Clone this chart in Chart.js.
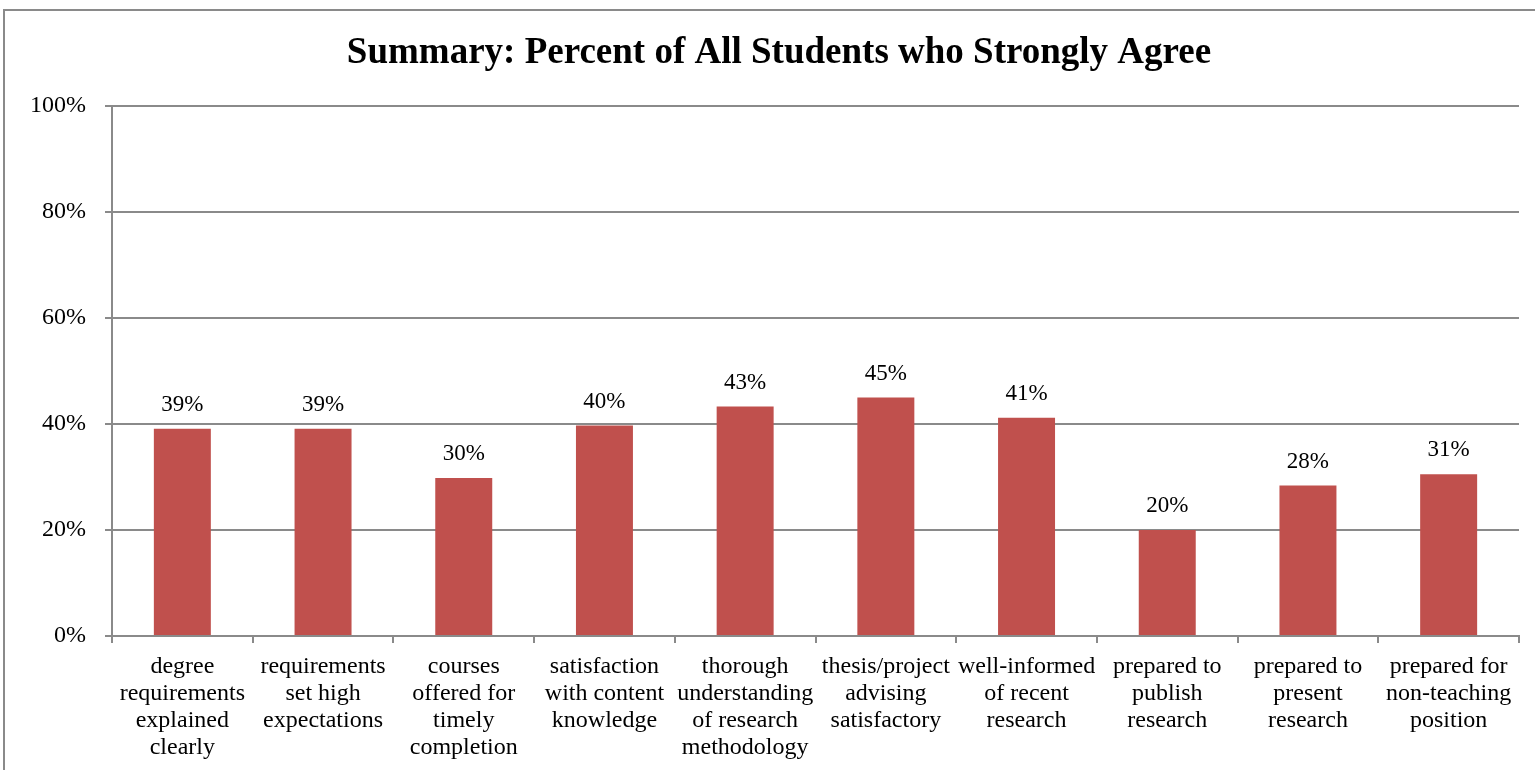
<html>
<head>
<style>
  body { margin: 0; overflow: hidden; background: #fff; }
  #frame { position: absolute; left: 3px; top: 9px; width: 1600px; height: 800px;
           border-left: 2px solid #8a8a8a; border-top: 2px solid #8a8a8a; }
  #myChart { position: absolute; left: 0; top: 0; }
</style>
</head>
<body>
  <div id="frame"></div>
  <canvas id="myChart" width="1558" height="770"></canvas>

  <script src="https://cdn.jsdelivr.net/npm/chart.js"></script>
  <script>
    // chart data
    var title_text = "Summary: Percent of All Students who Strongly Agree";
    var categories = [
      ["degree", "requirements", "explained", "clearly"],
      ["requirements", "set high", "expectations"],
      ["courses", "offered for", "timely", "completion"],
      ["satisfaction", "with content", "knowledge"],
      ["thorough", "understanding", "of research", "methodology"],
      ["thesis/project", "advising", "satisfactory"],
      ["well-informed", "of recent", "research"],
      ["prepared to", "publish", "research"],
      ["prepared to", "present", "research"],
      ["prepared for", "non-teaching", "position"]
    ];
    var strongly_agree = [39.1, 39.1, 29.8, 39.7, 43.3, 45.0, 41.2, 20.0, 28.4, 30.5];
    var value_labels = ["39%", "39%", "30%", "40%", "43%", "45%", "41%", "20%", "28%", "31%"];
    var y_ticks = [0, 20, 40, 60, 80, 100];

    var serif = '"Liberation Serif", "Times New Roman", serif';
    var gridColor = "#8a8a8a";

    // draw the percent above each bar
    var valueLabels = {
      id: "valueLabels",
      afterDatasetsDraw: function (chart) {
        var ctx = chart.ctx;
        var meta = chart.getDatasetMeta(0);
        ctx.save();
        ctx.font = "23px " + serif;
        ctx.fillStyle = "#000";
        ctx.textAlign = "center";
        ctx.textBaseline = "middle";
        meta.data.forEach(function (bar, i) {
          ctx.fillText(value_labels[i], bar.x, bar.y - 24);
        });
        ctx.restore();
      }
    };

    // the chart frame is wider than the window, so the title is centred on the frame, not the page
    var frameTitle = {
      id: "frameTitle",
      afterDraw: function (chart) {
        var ctx = chart.ctx;
        ctx.save();
        ctx.font = "bold 37px " + serif;
        ctx.fillStyle = "#000";
        ctx.textAlign = "center";
        ctx.textBaseline = "middle";
        ctx.fillText(title_text, chart.width / 2, 53);
        ctx.restore();
      }
    };

    var ctx = document.getElementById("myChart").getContext("2d");
    var myChart = new Chart(ctx, {
      type: "bar",
      data: {
        labels: categories,
        datasets: [{
          label: "Strongly agree",
          data: strongly_agree,
          backgroundColor: "#C0504D",
          borderWidth: 0,
          barPercentage: 0.405,
          categoryPercentage: 1.0
        }]
      },
      options: {
        responsive: false,
        animation: false,
        devicePixelRatio: 1,
        layout: { padding: { left: 0, right: 39, top: 106, bottom: 0 } },
        plugins: {
          legend: { display: false },
          tooltip: { enabled: false },
          title: { display: false }
        },
        scales: {
          x: {
            grid: { drawOnChartArea: false, drawTicks: true, tickLength: 7, color: gridColor, lineWidth: 2 },
            border: { color: gridColor, width: 2 },
            ticks: {
              color: "#000",
              font: { family: serif, size: 24, lineHeight: 1.125 },
              maxRotation: 0, minRotation: 0, autoSkip: false, padding: 10
            },
            afterFit: function (scale) { scale.height = 134; }
          },
          y: {
            min: 0, max: 100,
            afterBuildTicks: function (scale) {
              scale.ticks = y_ticks.map(function (v) { return { value: v }; });
            },
            grid: { color: gridColor, lineWidth: 2, tickLength: 7 },
            border: { color: gridColor, width: 2 },
            ticks: {
              color: "#000",
              font: { family: serif, size: 24 },
              padding: 19,
              callback: function (v) { return v + "%"; }
            },
            afterFit: function (scale) { scale.width = 112; }
          }
        }
      },
      plugins: [valueLabels, frameTitle]
    });
  </script>
</body>
</html>
